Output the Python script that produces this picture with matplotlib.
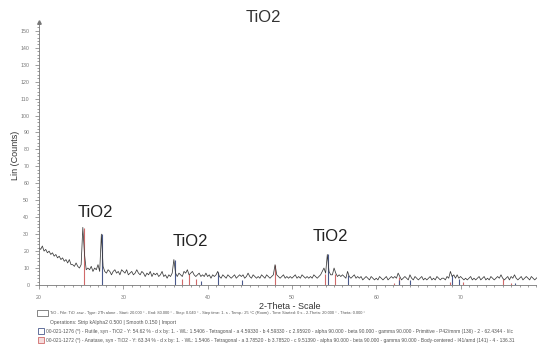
import numpy as np
import matplotlib
matplotlib.use("Agg")
import matplotlib.pyplot as plt
import matplotlib.patches as mpatches
from matplotlib.ticker import MultipleLocator

plt.rcParams['font.family'] = ['Liberation Sans', 'DejaVu Sans']

# digitised scan, every 0.2 deg (20.0 .. 79.2)
start_2theta = 20.0
step_2theta = 0.2
counts = [
    22, 21, 23, 20, 21, 19, 20, 18, 19, 17,    # 20
    18, 16, 17, 15, 16, 14, 15, 13, 15, 12,    # 22
    12, 11, 13, 11, 10, 12, 34, 18, 9, 10,     # 24
    9, 11, 8, 10, 9, 12, 8, 30, 11, 8,         # 26
    7, 9, 8, 6, 8, 9, 7, 8, 6, 9,              # 28
    8, 7, 9, 6, 7, 8, 6, 7, 9, 7,              # 30
    6, 8, 7, 5, 7, 6, 8, 5, 7, 6,              # 32
    7, 5, 6, 8, 5, 6, 4, 6, 5, 7,              # 34
    15, 7, 5, 7, 6, 5, 8, 7, 9, 6,             # 36
    7, 8, 6, 5, 6, 7, 5, 6, 5, 7,              # 38
    5, 6, 4, 6, 5, 6, 8, 5, 4, 6,              # 40
    5, 4, 6, 5, 4, 5, 6, 4, 5, 6,              # 42
    5, 6, 4, 5, 7, 5, 4, 6, 5, 4,              # 44
    5, 4, 6, 5, 4, 6, 5, 4, 5, 6,              # 46
    12, 6, 5, 4, 5, 6, 4, 5, 4, 5,             # 48
    4, 5, 6, 4, 5, 4, 6, 5, 4, 5,              # 50
    4, 5, 4, 6, 5, 4, 5, 6, 8, 10,             # 52
    7, 18, 8, 6, 6, 10, 7, 5, 6, 5,            # 54
    6, 5, 4, 8, 5, 4, 5, 6, 4, 5,              # 56
    4, 5, 3, 4, 5, 4, 3, 5, 4, 3,              # 58
    4, 3, 5, 4, 3, 4, 5, 3, 4, 5,              # 60
    4, 5, 4, 7, 5, 3, 4, 5, 4, 3,              # 62
    6, 4, 3, 5, 4, 3, 4, 5, 3, 4,              # 64
    3, 4, 5, 3, 4, 3, 5, 4, 3, 4,              # 66
    4, 3, 5, 4, 8, 5, 6, 4, 6, 4,              # 68
    5, 4, 3, 4, 3, 4, 5, 3, 4, 3,              # 70
    4, 5, 3, 4, 5, 3, 4, 3, 5, 4,              # 72
    3, 4, 5, 4, 6, 4, 3, 4, 5, 3,              # 74
    5, 4, 6, 4, 3, 4, 5, 3, 4, 5,              # 76
    4, 3, 5, 4, 3, 4, 5,                       # 78
]
two_theta = start_2theta + step_2theta * np.arange(len(counts))

# reference patterns (stick positions / heights as drawn)
rutile_pos = [27.45, 36.09, 39.19, 41.23, 44.05, 54.32, 56.64, 62.74, 64.04, 69.01, 69.79, 76.51]
rutile_h = [30.0, 15.0, 2.4, 7.5, 3.0, 18.0, 6.0, 3.0, 3.0, 6.0, 3.6, 1.2]
anatase_pos = [25.28, 36.95, 37.80, 38.58, 48.05, 53.89, 55.06, 62.12, 62.69, 68.76, 70.31, 75.03, 76.02]
anatase_h = [33.5, 3.4, 6.7, 3.4, 11.7, 6.7, 6.7, 1.3, 4.7, 2.0, 2.0, 3.4, 1.3]

peak_labels = ["TiO2", "TiO2", "TiO2"]
label_x = [26.65, 37.9, 54.6]
label_y = [38.5, 21.0, 24.0]

footer = [
    "TiO - File: TiO .raw - Type: 2Th alone - Start: 20.000 ° - End: 80.000 ° - Step: 0.040 ° - Step time: 1. s - Temp.: 25 °C (Room) - Time Started: 0 s - 2-Theta: 20.000 ° - Theta: 0.000 °",
    "Operations: Strip kAlpha2 0.500 | Smooth 0.150 | Import",
    "00-021-1276 (*) - Rutile, syn - TiO2 - Y: 54.62 % - d x by: 1. - WL: 1.5406 - Tetragonal - a 4.59330 - b 4.59330 - c 2.95920 - alpha 90.000 - beta 90.000 - gamma 90.000 - Primitive - P42/mnm (136) - 2 - 62.4344 - I/ic",
    "00-021-1272 (*) - Anatase, syn - TiO2 - Y: 63.34 % - d x by: 1. - WL: 1.5406 - Tetragonal - a 3.78520 - b 3.78520 - c 9.51390 - alpha 90.000 - beta 90.000 - gamma 90.000 - Body-centered - I41/amd (141) - 4 - 136.31",
]

rutile_col = '#4a5a8c'
anatase_col = '#d06a6a'
grey = '#777777'

fig = plt.figure(figsize=(5.37, 3.47), dpi=100)
ax = fig.add_axes([0.0726, 0.1787, 0.942, 0.757])

ax.vlines(anatase_pos, 0, anatase_h, color=anatase_col, lw=0.8)
ax.vlines(rutile_pos, 0, rutile_h, color=rutile_col, lw=0.8)
ax.plot(two_theta, counts, color='#3a3a3a', lw=0.55)

for t, x, y in zip(peak_labels, label_x, label_y):
    ax.text(x, y, t, fontsize=12, color='#222222', ha='center', va='bottom')

ax.set_xlim(20, 80)
ax.set_ylim(0, 155)
ax.xaxis.set_major_locator(MultipleLocator(10))
ax.xaxis.set_minor_locator(MultipleLocator(1))
ax.yaxis.set_major_locator(MultipleLocator(10))
ax.yaxis.set_minor_locator(MultipleLocator(2))
ax.tick_params(which='both', direction='out', colors=grey, labelsize=3.8, width=0.5)
ax.tick_params(which='major', length=3, pad=4)
ax.tick_params(which='minor', length=1.5)
ax.set_xticks([20, 30, 40, 50, 60, 70])
for s in ['top', 'right']:
    ax.spines[s].set_visible(False)
for s in ['left', 'bottom']:
    ax.spines[s].set_color(grey)
    ax.spines[s].set_linewidth(0.6)
ax.plot([0], [1.0], marker='^', ms=2.5, color=grey, transform=ax.transAxes, clip_on=False)

fig.text(0.49, 0.951, "TiO2", fontsize=12, color='#333333', ha='center', va='center')
fig.text(0.54, 0.118, "2-Theta - Scale", fontsize=6.5, color='#333333', ha='center', va='center')
fig.text(0.028, 0.553, "Lin (Counts)", fontsize=6.5, color='#333333', rotation=90, ha='center', va='center')

# footer with legend boxes
rows_y = [0.098, 0.072, 0.046, 0.020]
rows_x = [0.093, 0.093, 0.086, 0.086]
rows_fs = [2.85, 3.6, 3.55, 3.55]
for txt, x, y, fs in zip(footer, rows_x, rows_y, rows_fs):
    fig.text(x, y, txt, fontsize=fs, color='#555555', ha='left', va='center')
box_w, box_h = 0.011, 0.017
fig.patches.append(mpatches.Rectangle((0.069, rows_y[0] - box_h / 2), 0.02, box_h, transform=fig.transFigure,
                                      fill=False, ec='#555555', lw=0.5))
fig.patches.append(mpatches.Rectangle((0.071, rows_y[2] - box_h / 2), box_w, box_h, transform=fig.transFigure,
                                      fc='white', ec=rutile_col, lw=0.6))
fig.patches.append(mpatches.Rectangle((0.071, rows_y[3] - box_h / 2), box_w, box_h, transform=fig.transFigure,
                                      fc='#f6dcdc', ec=anatase_col, lw=0.6))

fig.savefig("out.png", dpi=100)
